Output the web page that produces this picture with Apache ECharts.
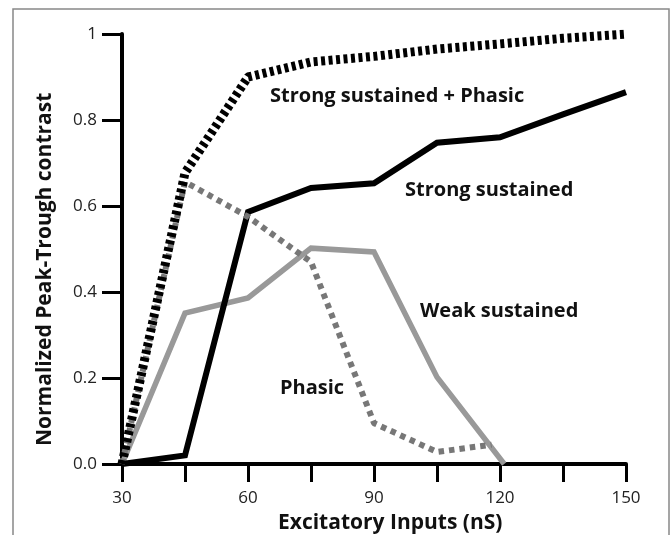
<!DOCTYPE html>
<html>
<head>
<meta charset="utf-8">
<script src="https://cdn.jsdelivr.net/npm/echarts@6/dist/echarts.min.js"></script>
<style>html,body{margin:0;padding:0;background:#fff;}#c{width:671px;height:535px;}</style>
</head>
<body>
<div id="c"></div>
<script>
var xValues = [30, 45, 60, 75, 90, 105, 120, 135, 150];
var strongPhasic = [0, 0.677, 0.90, 0.935, 0.948, 0.965, 0.977, 0.99, 1.0];
var strongSustained = [0, 0.02, 0.586, 0.642, 0.653, 0.747, 0.76, 0.813, 0.865];
var weakX = [30, 45, 60, 75, 90, 105, 121];
var weakSustained = [0, 0.351, 0.386, 0.502, 0.493, 0.202, 0];
var phasicX = [30, 45, 60, 75, 90, 105, 118];
var phasic = [0, 0.656, 0.575, 0.47, 0.095, 0.028, 0.045];
var yTicks = [0, 0.2, 0.4, 0.6, 0.8, 1];
var xLabelTicks = [30, 60, 90, 120, 150];

function pairs(xs, ys) { return xs.map(function (x, i) { return [x, ys[i]]; }); }

var chart = echarts.init(document.getElementById('c'), null, {renderer: 'canvas'});
var labelFont = {fontFamily: 'Open Sans', fontWeight: 'bold', fontSize: 20, fill: '#111'};
chart.setOption({
  animation: false,
  backgroundColor: '#fff',
  grid: {left: 122, right: 45, top: 34, bottom: 71},
  xAxis: {
    type: 'value', min: 30, max: 150, interval: 15,
    axisLine: {lineStyle: {color: '#000', width: 4}},
    axisTick: {length: 18, lineStyle: {color: '#000', width: 3}},
    splitLine: {show: false},
    axisLabel: {
      margin: 26, fontFamily: 'Open Sans', fontSize: 17, color: '#222',
      formatter: function (v) { return xLabelTicks.indexOf(v) >= 0 ? String(v) : ''; }
    }
  },
  yAxis: {
    type: 'value', min: 0, max: 1, interval: 0.2,
    axisLine: {show: true, lineStyle: {color: '#000', width: 4}},
    axisTick: {show: true, length: 20, lineStyle: {color: '#000', width: 3}},
    splitLine: {show: false},
    axisLabel: {
      margin: 25, fontFamily: 'Open Sans', fontSize: 17, color: '#222',
      formatter: function (v) { return v === yTicks[yTicks.length - 1] ? '1' : v.toFixed(1); }
    }
  },
  series: [
    {type: 'line', name: 'Weak sustained', data: pairs(weakX, weakSustained), symbol: 'none',
     lineStyle: {color: '#999', width: 5.5, join: 'miter'}, z: 2},
    {type: 'line', name: 'Strong sustained', data: pairs(xValues, strongSustained), symbol: 'none',
     lineStyle: {color: '#000', width: 6, join: 'miter'}, z: 3},
    {type: 'line', name: 'Phasic', data: pairs(phasicX, phasic), symbol: 'none',
     lineStyle: {color: '#777', width: 6, type: [5.5, 5], cap: 'butt'}, z: 4},
    {type: 'line', name: 'Strong sustained + Phasic', data: pairs(xValues, strongPhasic), symbol: 'none',
     lineStyle: {color: '#000', width: 9, type: [4, 3.5], cap: 'butt'}, z: 5}
  ],
  graphic: [
    {type: 'rect', shape: {x: 13, y: 9, width: 656, height: 560}, style: {fill: 'none', stroke: '#888', lineWidth: 1.5}, z: -10},
    {type: 'text', left: 270, top: 86, style: Object.assign({text: 'Strong sustained + Phasic'}, labelFont)},
    {type: 'text', left: 405, top: 180, style: Object.assign({text: 'Strong sustained'}, labelFont)},
    {type: 'text', left: 420, top: 301, style: Object.assign({text: 'Weak sustained'}, labelFont)},
    {type: 'text', left: 280, top: 378, style: Object.assign({text: 'Phasic'}, labelFont)},
    {type: 'text', left: 278, top: 513, style: {text: 'Excitatory Inputs (nS)', fontFamily: 'Open Sans', fontWeight: 'bold', fontSize: 21, fill: '#111'}},
    {type: 'text', x: 35, y: 446, rotation: Math.PI / 2, style: {text: 'Normalized Peak-Trough contrast', fontFamily: 'Open Sans', fontWeight: 'bold', fontSize: 21, fill: '#111'}}
  ]
});
</script>
</body>
</html>
